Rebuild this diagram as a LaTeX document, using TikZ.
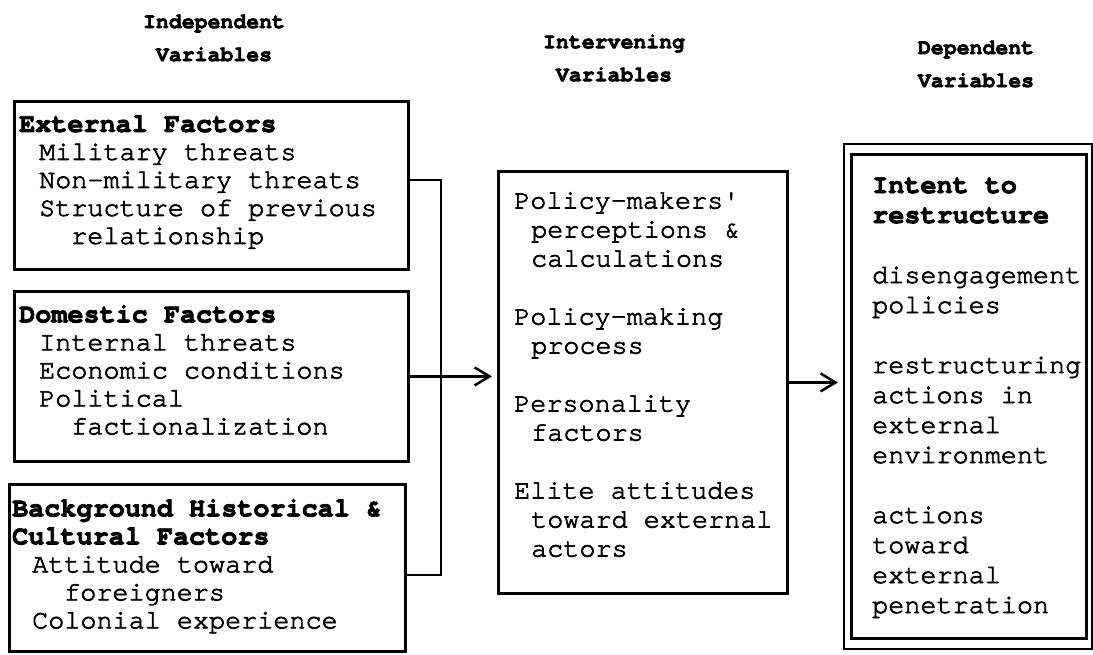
\documentclass[tikz,border=0pt]{standalone}
\usepackage{fontspec}
\newfontfamily\cour[FakeBold=2.5, BoldFeatures={FakeBold=3}]{TeX Gyre Cursor}
\usetikzlibrary{arrows.meta}

\tikzset{
  frame/.style={draw, line width=2.8pt, inner sep=0pt, anchor=north west},
  thinframe/.style={draw, line width=2pt, inner sep=0pt, anchor=north west},
  body/.style={font=\fontsize{26.8}{28}\selectfont\cour, align=left, inner sep=0pt, anchor=north west},
  head/.style={font=\fontsize{21.5}{33}\selectfont\cour\bfseries, align=center, inner sep=0pt},
  link/.style={line width=2.8pt},
  chev/.style={-{Straight Barb[length=15pt,width=18pt,line width=2.5pt]}, shorten >=5pt},
}

\begin{document}
\begin{tikzpicture}[x=1pt,y=-1pt]
  \useasboundingbox (0,0) rectangle (1093,654);

  % column headings
  \node[head] (hInd) at (214,38) {Independent\\Variables};
  \node[head] (hInt) at (614,58) {Intervening\\Variables};
  \node[head] (hDep) at (976,64) {Dependent\\Variables};

  % independent variables
  \node[frame, minimum width=394pt, minimum height=168pt] (ext) at (13,100) {};
  \node[body] (extT) at (19,115) {\textbf{External Factors}\\
    \hspace*{20pt}Military threats\\
    \hspace*{20pt}Non-military threats\\
    \hspace*{20pt}Structure of previous\\
    \hspace*{52pt}relationship};

  \node[frame, minimum width=394pt, minimum height=170pt] (dom) at (13,290) {};
  \node[body] (domT) at (19,305) {\textbf{Domestic Factors}\\
    \hspace*{20pt}Internal threats\\
    \hspace*{20pt}Economic conditions\\
    \hspace*{20pt}Political\\
    \hspace*{52pt}factionalization};

  \node[frame, minimum width=396pt, minimum height=167pt] (bg) at (8,483) {};
  \node[body] (bgT) at (12,499) {\textbf{Background Historical \&}\\
    \textbf{Cultural Factors}\\
    \hspace*{20pt}Attitude toward\\
    \hspace*{52pt}foreigners\\
    \hspace*{20pt}Colonial experience};

  % intervening variables
  \node[frame, minimum width=289pt, minimum height=422pt] (mid) at (497,170) {};
  \node[font=\fontsize{26.8}{29}\selectfont\cour, align=left, inner sep=0pt, anchor=north west]
    (midT) at (514,192) {Policy-makers'\\
    \hspace*{17pt}perceptions \&\\
    \hspace*{17pt}calculations\\[29pt]
    Policy-making\\
    \hspace*{17pt}process\\[29pt]
    Personality\\
    \hspace*{17pt}factors\\[29pt]
    Elite attitudes\\
    \hspace*{17pt}toward external\\
    \hspace*{17pt}actors};

  % dependent variables (double frame)
  \node[thinframe, minimum width=248pt, minimum height=505pt] (depO) at (843,143) {};
  \node[frame, minimum width=235pt, minimum height=484pt] (depI) at (850,153) {};
  \node[font=\fontsize{26.8}{30}\selectfont\cour, align=left, inner sep=0pt, anchor=north west]
    (depT) at (872,177) {\textbf{Intent to}\\
    \textbf{restructure}\\[30pt]
    disengagement\\
    policies\\[30pt]
    restructuring\\
    actions in\\
    external\\
    environment\\[30pt]
    actions\\
    toward\\
    external\\
    penetration};

  % bracket joining the three groups of factors
  \coordinate (brTop) at (441,180);
  \coordinate (brBot) at (441,575);
  \draw[link] (brTop -| ext.east) -- (brTop) -- (brBot) -- (brBot -| bg.east);

  % arrows between the columns
  \draw[link, chev] (dom.east) -- (dom.east -| mid.west);
  \draw[link, chev] (mid.east) -- (mid.east -| depO.west);
\end{tikzpicture}
\end{document}
